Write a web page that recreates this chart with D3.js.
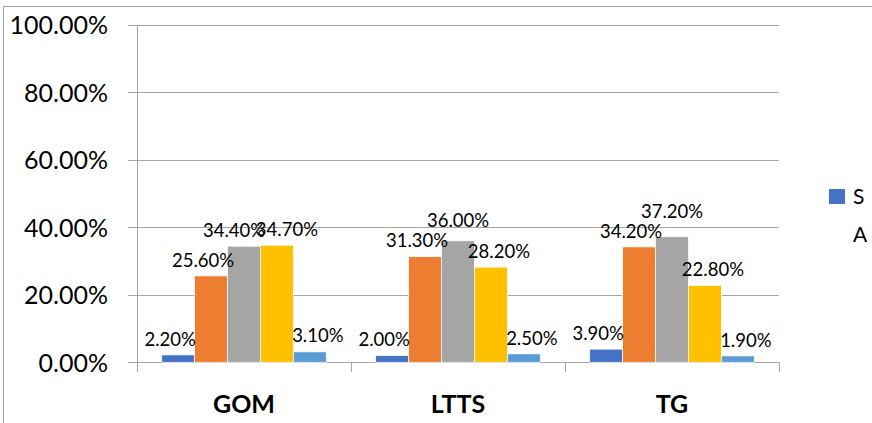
<!DOCTYPE html>
<html>
<head>
<meta charset="utf-8">
<script src="https://cdn.jsdelivr.net/npm/d3@7"></script>
<style>
  html, body { margin: 0; padding: 0; background: #fff; }
  svg { display: block; font-family: Lato, "Open Sans", sans-serif; }
</style>
</head>
<body>
<svg id="chart" width="872" height="423"></svg>
<script>
// Companies on the x axis
const categories = ["GOM", "LTTS", "TG"];

// Share (%) per series, one value per company
const series1 = [2.2, 2.0, 3.9];
const series2 = [25.6, 31.3, 34.2];
const series3 = [34.4, 36.0, 37.2];
const series4 = [34.7, 28.2, 22.8];
const series5 = [3.1, 2.5, 1.9];
const seriesValues = [series1, series2, series3, series4, series5];

const seriesColors = ["#4472C4", "#ED7D31", "#A5A5A5", "#FFC000", "#5B9BD5"];

// y axis ticks (%)
const yTicks = [0, 20, 40, 60, 80, 100];

// Legend text lines (wrapped name of the first series)
const legendLines = ["S", "A"];

const svg = d3.select("#chart");

const plot = { left: 137, right: 779, top: 24.8, bottom: 362.3 };

const x = d3.scaleBand()
  .domain(categories)
  .range([plot.left, plot.right])
  .padding(0);

const xs = d3.scaleBand()
  .domain(d3.range(seriesValues.length))
  .range([0, x.bandwidth()])
  .paddingInner(0)
  .paddingOuter(0.75);

const y = d3.scaleLinear()
  .domain([0, 100])
  .range([plot.bottom, plot.top]);

const fmt = v => v.toFixed(2) + "%";

// Outer chart frame (top and left edges visible in the window)
svg.append("rect")
  .attr("x", 3.5).attr("y", 6.5)
  .attr("width", 1000).attr("height", 1000)
  .attr("fill", "none")
  .attr("stroke", "#a6a6a6")
  .attr("stroke-width", 1);

// Horizontal gridlines with tick labels
const yAxis = d3.axisLeft(y)
  .tickValues(yTicks)
  .tickSize(plot.right - plot.left + 9)
  .tickFormat(fmt);

const gy = svg.append("g")
  .attr("transform", `translate(${plot.right},0)`)
  .call(yAxis);
gy.select(".domain").remove();
gy.selectAll(".tick line")
  .attr("stroke", "#a6a6a6")
  .attr("stroke-width", 1)
  .attr("shape-rendering", "crispEdges");
gy.selectAll(".tick text")
  .attr("x", -(plot.right - plot.left) - 29)
  .attr("dy", "0.36em")
  .attr("fill", "#000")
  .style("font-family", "Lato, sans-serif")
  .style("font-size", "25px");

// Vertical axis line
svg.append("line")
  .attr("x1", plot.left).attr("x2", plot.left)
  .attr("y1", plot.top).attr("y2", plot.bottom + 10)
  .attr("stroke", "#a6a6a6")
  .attr("shape-rendering", "crispEdges");

// Category axis with boundary ticks
const xAxis = d3.axisBottom(x).tickSize(0).tickFormat(d => d);
const gx = svg.append("g")
  .attr("transform", `translate(0,${plot.bottom})`)
  .call(xAxis);
gx.select(".domain")
  .attr("stroke", "#a6a6a6")
  .attr("d", `M${plot.left - 9},0.5H${plot.right}`)
  .attr("shape-rendering", "crispEdges");
gx.selectAll(".tick text")
  .attr("y", 51)
  .attr("dy", 0)
  .attr("fill", "#000")
  .style("font-family", "Lato, sans-serif")
  .style("font-size", "25px")
  .style("font-weight", "bold");

const boundaries = categories.map(c => x(c)).concat([x(categories[categories.length - 1]) + x.bandwidth()]);
svg.append("g").selectAll("line")
  .data(boundaries.slice(1))
  .join("line")
  .attr("x1", d => d).attr("x2", d => d)
  .attr("y1", plot.bottom).attr("y2", plot.bottom + 10)
  .attr("stroke", "#a6a6a6")
  .attr("shape-rendering", "crispEdges");

// Bars
const cells = [];
categories.forEach((c, ci) => {
  seriesValues.forEach((vals, si) => {
    const x0 = x(c) + xs(si);
    cells.push({ cat: c, si, value: vals[ci], x0, x1: x0 + xs.bandwidth(), top: y(vals[ci]) });
  });
});

svg.append("g").selectAll("rect")
  .data(cells)
  .join("rect")
  .attr("x", d => d.x0)
  .attr("y", d => d.top)
  .attr("width", xs.bandwidth())
  .attr("height", d => y(0) - d.top)
  .attr("fill", d => seriesColors[d.si])
  .attr("stroke", "#fff")
  .attr("stroke-width", 0.75);

// Value labels above bars
const labelSize = 18.5, labelH = 17, maxShift = 8;
const labels = svg.append("g").selectAll("text")
  .data(cells)
  .join("text")
  .attr("text-anchor", "middle")
  .attr("fill", "#000")
  .style("font-size", labelSize + "px")
  .text(d => fmt(d.value));

labels.each(function (d) {
  d.w = this.getComputedTextLength();
  d.cx = (d.x0 + d.x1) / 2;
  d.cy = d.top - 16;
});

// Nudge labels off taller neighbouring bars and apart from each other
categories.forEach(c => {
  const group = cells.filter(d => d.cat === c);
  group.forEach((d, i) => {
    const left = group[i - 1], right = group[i + 1];
    if (left && left.top < d.cy + labelH / 2 && d.cx - d.w / 2 < left.x1) {
      d.cx += Math.min(left.x1 - (d.cx - d.w / 2), maxShift);
    }
    if (right && right.top < d.cy + labelH / 2 && d.cx + d.w / 2 > right.x0) {
      d.cx -= Math.min((d.cx + d.w / 2) - right.x0, maxShift);
    }
  });
  for (let i = 0; i < group.length - 1; i++) {
    const a = group[i], b = group[i + 1];
    const ov = (a.cx + a.w / 2) - (b.cx - b.w / 2) + 2;
    if (ov > 0 && Math.abs(a.cy - b.cy) < labelH) {
      if (Math.abs(a.top - b.top) < 4) {
        const s = Math.min(ov / 2, 10);
        a.cx -= s; b.cx += s;
      } else if (a.top < b.top) {
        a.cy = b.cy - labelH;
      } else {
        b.cy = a.cy - labelH - 3;
      }
    }
  }
});

labels
  .attr("x", d => d.cx)
  .attr("y", d => d.cy + labelSize * 0.36);

// Legend
const lg = svg.append("g");
lg.append("rect")
  .attr("x", 829).attr("y", 189)
  .attr("width", 16).attr("height", 15)
  .attr("fill", seriesColors[0]);
lg.selectAll("text")
  .data(legendLines)
  .join("text")
  .attr("x", 853)
  .attr("y", (d, i) => 204 + i * 37.5)
  .attr("fill", "#000")
  .style("font-size", "21px")
  .text(d => d);
</script>
</body>
</html>
